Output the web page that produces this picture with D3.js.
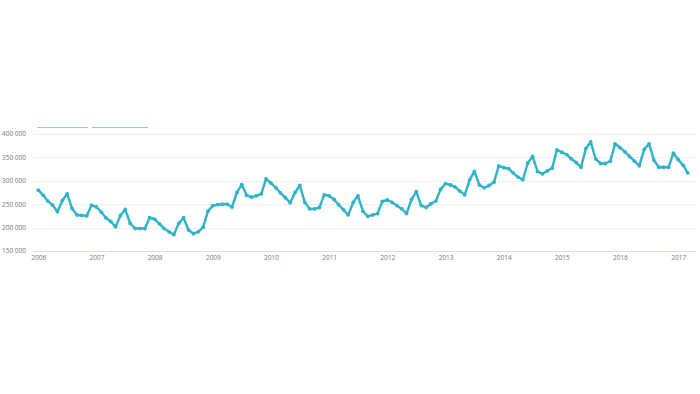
<!DOCTYPE html>
<html>
<head>
<meta charset="utf-8">
<script src="https://cdn.jsdelivr.net/npm/d3@7"></script>
<style>
  body { margin: 0; background: #fff; }
  svg { display: block; font-family: "Open Sans", sans-serif; }
</style>
</head>
<body>
<svg id="chart" width="700" height="394"></svg>
<script>
// monthly values, Jan 2006 .. Mar 2017
var startMonth = '2006-01';
var values = [
  280000, 269000, 257000, 248000, 234000, 258000, 272000, 241000, 227000, 226000, 225000, 248000,
  244000, 233000, 221000, 213000, 202000, 226000, 239000, 209000, 198000, 198000, 198000, 221000,
  218000, 208000, 198000, 191000, 185000, 209000, 221000, 195000, 187000, 191000, 201000, 235000,
  247000, 249000, 250000, 250000, 244000, 275000, 292000, 269000, 265000, 268000, 272000, 304000,
  295000, 285000, 274000, 264000, 253000, 275000, 290000, 254000, 240000, 240000, 243000, 270000,
  268000, 260000, 249000, 238000, 227000, 254000, 268000, 235000, 224000, 227000, 230000, 256000,
  259000, 254000, 247000, 240000, 230000, 260000, 277000, 247000, 243000, 251000, 257000, 282000,
  294000, 291000, 287000, 278000, 270000, 302000, 320000, 291000, 285000, 290000, 297000, 332000,
  328000, 326000, 317000, 308000, 302000, 338000, 352000, 320000, 315000, 321000, 327000, 366000,
  361000, 356000, 347000, 339000, 329000, 369000, 383000, 347000, 337000, 337000, 342000, 379000,
  371000, 362000, 352000, 342000, 332000, 367000, 379000, 344000, 329000, 329000, 329000, 359000,
  345000, 333000, 317000
];
var yTicks = [150000, 200000, 250000, 300000, 350000, 400000];
var xTickYears = [2006, 2007, 2008, 2009, 2010, 2011, 2012, 2013, 2014, 2015, 2016, 2017];

var svg = d3.select('#chart');
var color = '#2fb3c8';

var start = d3.timeParse('%Y-%m')(startMonth);
var data = values.map(function(v, i) { return { date: d3.timeMonth.offset(start, i), value: v }; });

var x = d3.scaleTime()
    .domain([new Date(2006, 0, 1), new Date(2017, 0, 1)])
    .range([38.3, 678.3]);
var y = d3.scaleLinear().domain([150000, 400000]).range([251, 134]);

var fmt = function(d) { return d3.format(',')(d).replace(/,/g, ' '); };

// legend stubs
svg.append('line').attr('x1', 37).attr('x2', 88).attr('y1', 127).attr('y2', 127)
    .attr('stroke', '#8ccfd6').attr('stroke-width', 1).attr('shape-rendering', 'crispEdges');
svg.append('line').attr('x1', 92).attr('x2', 148).attr('y1', 127).attr('y2', 127)
    .attr('stroke', '#8ccfd6').attr('stroke-width', 1).attr('shape-rendering', 'crispEdges');

// grid
svg.append('g').selectAll('line').data(yTicks).enter().append('line')
    .attr('x1', 33).attr('x2', 697)
    .attr('y1', function(d) { return Math.round(y(d)) + 0.5; })
    .attr('y2', function(d) { return Math.round(y(d)) + 0.5; })
    .attr('stroke', function(d) { return d === 150000 ? '#d6e0ec' : '#eeeeee'; })
    .attr('stroke-width', 1);

// y labels
svg.append('g').selectAll('text').data(yTicks).enter().append('text')
    .attr('x', 26).attr('y', function(d) { return y(d) + 2.3; })
    .attr('text-anchor', 'end')
    .attr('font-size', 6.5)
    .attr('fill', '#777')
    .text(fmt);

// x labels
var xAxis = d3.axisBottom(x)
    .tickValues(xTickYears.map(function(yr) { return new Date(yr, 0, 1); }))
    .tickFormat(d3.timeFormat('%Y'))
    .tickSize(0).tickPadding(4);
var gx = svg.append('g').attr('transform', 'translate(0,251)').call(xAxis);
gx.select('.domain').remove();
gx.selectAll('text').attr('font-size', 6.5).attr('fill', '#777').attr('font-family', '"Open Sans", sans-serif');

// series
var line = d3.line()
    .x(function(d) { return x(d.date); })
    .y(function(d) { return y(d.value); });

svg.append('path').datum(data)
    .attr('d', line)
    .attr('fill', 'none')
    .attr('stroke', color)
    .attr('stroke-width', 2.4)
    .attr('stroke-linejoin', 'round');

svg.append('g').selectAll('circle').data(data).enter().append('circle')
    .attr('cx', function(d) { return x(d.date); })
    .attr('cy', function(d) { return y(d.value); })
    .attr('r', 1.9)
    .attr('fill', color);
</script>
</body>
</html>
